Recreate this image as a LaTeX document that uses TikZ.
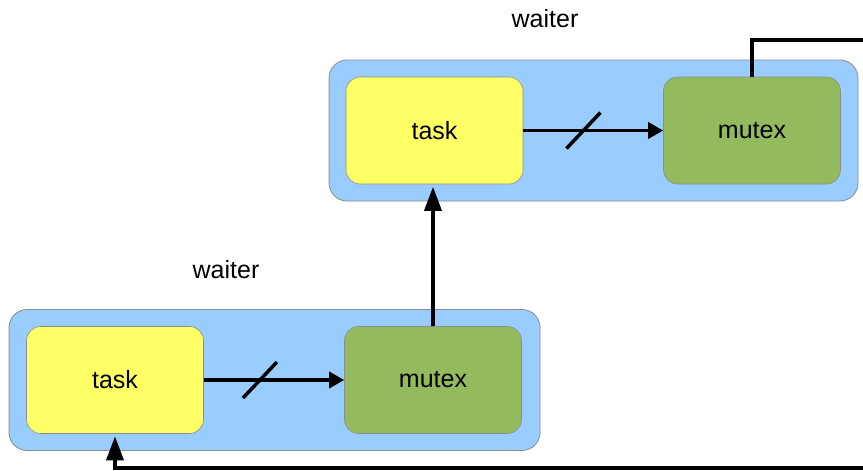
\documentclass[tikz,border=0pt]{standalone}
\usepackage{fontspec}
\setmainfont{Liberation Sans}
\usetikzlibrary{arrows.meta}
\definecolor{waiterblue}{HTML}{99CCFF}
\definecolor{taskyellow}{HTML}{FFFF66}
\definecolor{mutexgreen}{HTML}{93BB5E}
\definecolor{rimgray}{HTML}{8C8C8C}

\begin{document}
\begin{tikzpicture}[x=1pt,y=-1pt,font=\fontsize{25}{29}\selectfont,
    waiter/.style={draw=rimgray,line width=.8pt,fill=waiterblue,rounded corners=18pt,
      minimum width=#1,minimum height=141pt,inner sep=0pt},
    inbox/.style={draw=rimgray,line width=.6pt,rounded corners=14pt,
      minimum width=177pt,minimum height=107pt,inner sep=0pt},
    task/.style={inbox,fill=taskyellow},
    mutexbox/.style={inbox,fill=mutexgreen},
    flow/.style={line width=3.5pt,-{Triangle[length=15pt,width=16pt]}},
    lift/.style={line width=3.5pt,shorten >=2.5pt,-{Triangle[length=24pt,width=17pt]}},
    wire/.style={line width=3.5pt},
    cut/.style={line width=3.5pt}]
\useasboundingbox (0,0) rectangle (863,471);

\node[waiter=529pt] (waiterA) at (593.5,130.5) {};
\node[waiter=531pt] (waiterB) at (274.5,380) {};
\node (labelA) at (545,19) {waiter};
\node (labelB) at (226,270) {waiter};

\node[task] (taskA) at (434.5,130.5) {task};
\node[mutexbox] (mutexA) at (752,130.5) {mutex};
\node[task] (taskB) at (115,380) {task};
\node[mutexbox] (mutexB) at (433,380) {mutex};

\coordinate (outA) at (870,40);
\coordinate (inB) at (870,468);

% task -> mutex, crossed out
\draw[flow] (taskA) -- coordinate[pos=.43] (cutA) (mutexA);
\draw[cut] ([shift={(-17,18)}]cutA) -- ([shift={(17,-18)}]cutA);
\draw[flow] (taskB) -- coordinate[pos=.40] (cutB) (mutexB);
\draw[cut] ([shift={(-17,18)}]cutB) -- ([shift={(17,-18)}]cutB);

\draw[lift] (mutexB.north) -- (mutexB.north |- taskA.south);
\draw[wire] (mutexA.north) |- (outA);
\draw[lift] (inB) -| (taskB.south);

\end{tikzpicture}
\end{document}
